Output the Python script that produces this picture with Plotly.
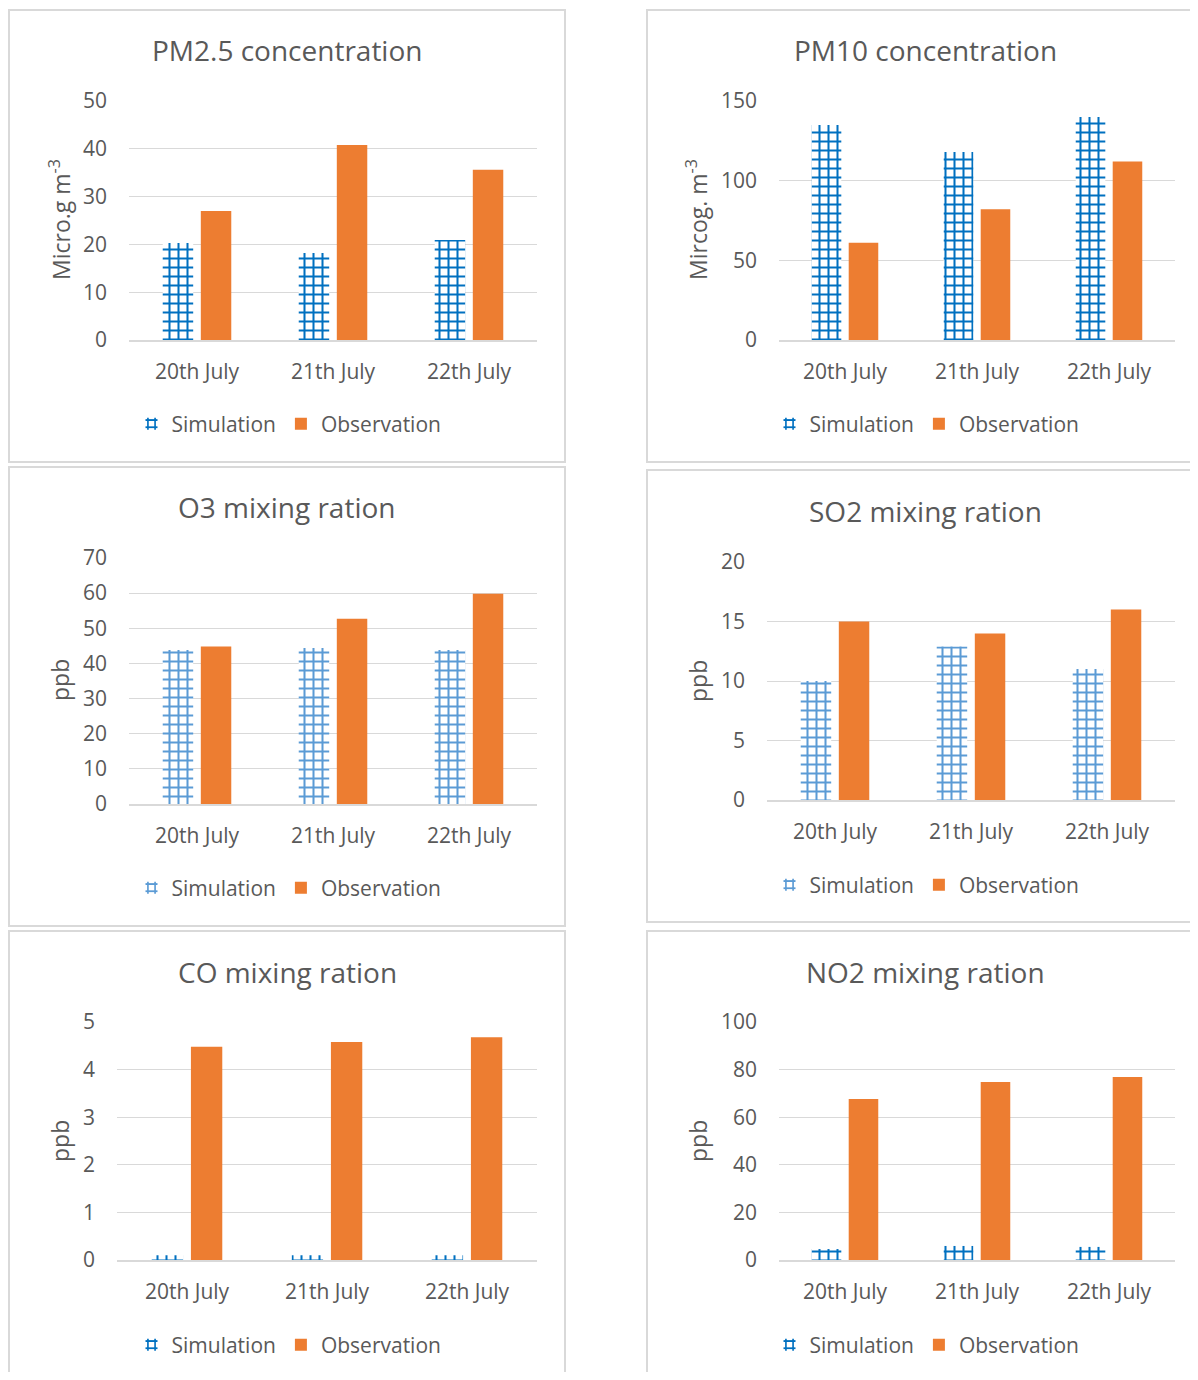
import plotly.graph_objects as go

OFF = 8  # page body margin
W, H = 1198 - 2 * OFF, 1380 - 2 * OFF

categories = ["20th July", "21th July", "22th July"]

pm25_sim = [20.3, 18.2, 20.9]
pm25_obs = [27.0, 40.8, 35.6]
pm10_sim = [135, 118, 140]
pm10_obs = [61, 82, 112]
o3_sim = [43.8, 44.4, 43.8]
o3_obs = [44.8, 52.7, 59.8]
so2_sim = [10, 12.9, 11]
so2_obs = [15, 14, 16]
co_sim = [0.1, 0.1, 0.1]
co_obs = [4.48, 4.58, 4.68]
no2_sim = [4.6, 5.9, 5.5]
no2_obs = [67.6, 74.8, 76.9]

titles = ["PM2.5 concentration", "PM10 concentration", "O3 mixing ration",
          "SO2 mixing ration", "CO mixing ration", "NO2 mixing ration"]
ytitles = ["Micro.g m<sup>-3</sup>", "Mircog. m<sup>-3</sup>", "ppb", "ppb", "ppb", "ppb"]
yranges = [(0, 50, 10), (0, 150, 50), (0, 70, 10), (0, 20, 5), (0, 5, 1), (0, 100, 20)]
sims = [pm25_sim, pm10_sim, o3_sim, so2_sim, co_sim, no2_sim]
obss = [pm25_obs, pm10_obs, o3_obs, so2_obs, co_obs, no2_obs]

TXT = "#595959"
GRID = "#D9D9D9"
FONT = "Open Sans"
ORANGE = "#ED7D31"
sim_colors = ["#0070C0", "#0070C0", "#5B9BD5", "#5B9BD5", "#0070C0", "#0070C0"]

def px(x):
    return (x - OFF) / W

def py(y):
    return 1 - (y - OFF) / H

# plot area px: (x0, x1, ytop, ybottom)
areas = [(129, 537, 101, 340), (779, 1175, 101, 340),
         (129, 537, 558, 804), (767, 1175, 562, 800),
         (117, 537, 1022, 1260), (779, 1175, 1022, 1260)]
boxes = [(9, 565, 10, 462), (647, 1230, 10, 462),
         (9, 565, 467, 926), (647, 1230, 470, 922),
         (9, 565, 931, 1420), (647, 1230, 931, 1420)]
title_pos = [(287, 50), (925, 50), (287, 507), (925, 511), (287, 972), (925, 972)]
ytitle_pos = [(60, 220), (697, 220), (60, 680), (698, 681), (60, 1141), (698, 1141)]
legend_pos = [(289, 424), (927, 424), (289, 888), (927, 885), (289, 1345), (927, 1345)]

fig = go.Figure()
layout = dict(
    width=W, height=H,
    margin=dict(l=0, r=0, t=0, b=0, pad=0, autoexpand=False),
    paper_bgcolor="white", plot_bgcolor="white",
    font=dict(family=FONT, color=TXT, size=21),
    bargap=0.44, bargroupgap=0.2, barmode="group",
    shapes=[], annotations=[],
)

for i in range(6):
    n = "" if i == 0 else str(i + 1)
    xa, ya = "x" + n, "y" + n
    lg = "legend" + n
    fig.add_trace(go.Bar(
        x=categories, y=sims[i], name="Simulation", xaxis=xa, yaxis=ya,
        legend=lg,
        marker=dict(color=sim_colors[i], line=dict(width=0),
                    pattern=dict(shape="+", size=9, solidity=0.4,
                                 fgcolor=sim_colors[i], bgcolor="white",
                                 fillmode="replace")),
    ))
    fig.add_trace(go.Bar(
        x=categories, y=obss[i], name="Observation", xaxis=xa, yaxis=ya,
        legend=lg, marker=dict(color=ORANGE, line=dict(width=0)),
    ))
    x0, x1, yt, yb = areas[i]
    lo, hi, dt = yranges[i]
    layout["xaxis" + n] = dict(
        domain=[px(x0), px(x1)], anchor=ya, showgrid=False,
        showline=True, linecolor=GRID, linewidth=1.5, ticks="",
        ticklabelstandoff=12, tickfont=dict(size=21, color=TXT),
        automargin=False,
    )
    layout["yaxis" + n] = dict(
        domain=[py(yb), py(yt)], anchor=xa, range=[lo, hi], dtick=dt,
        showgrid=True, gridcolor=GRID, gridwidth=1, zeroline=False,
        showline=False, ticks="", ticklabelstandoff=21,
        tickfont=dict(size=21, color=TXT), automargin=False,
    )
    lx, ly = legend_pos[i]
    layout[lg] = dict(
        x=px(lx), y=py(ly), xanchor="center", yanchor="middle",
        orientation="h", font=dict(size=21, color=TXT),
        bgcolor="rgba(0,0,0,0)", itemwidth=30, traceorder="normal",
    )
    bx0, bx1, by0, by1 = boxes[i]
    layout["shapes"].append(dict(
        type="rect", xref="paper", yref="paper",
        x0=px(bx0), x1=px(bx1), y0=py(by1), y1=py(by0),
        line=dict(color=GRID, width=2), fillcolor="rgba(0,0,0,0)", layer="below",
    ))
    tx, ty = title_pos[i]
    layout["annotations"].append(dict(
        text=titles[i], x=px(tx), y=py(ty), xref="paper", yref="paper",
        xanchor="center", yanchor="middle", showarrow=False,
        font=dict(size=28, color=TXT),
    ))
    ax, ay = ytitle_pos[i]
    layout["annotations"].append(dict(
        text=ytitles[i], x=px(ax), y=py(ay), xref="paper", yref="paper",
        xanchor="center", yanchor="middle", showarrow=False, textangle=-90,
        font=dict(size=23, color=TXT),
    ))

fig.update_layout(**layout)
fig.write_html("out.html")
